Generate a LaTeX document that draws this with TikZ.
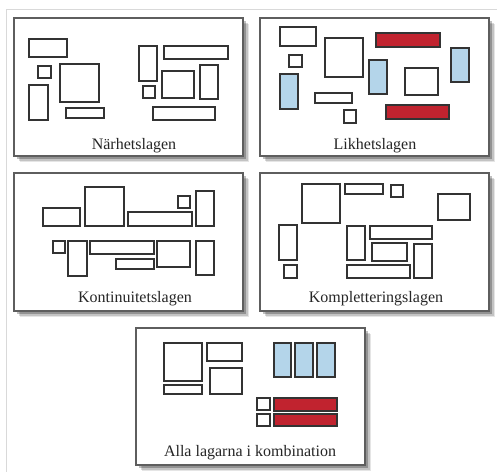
\documentclass[tikz,border=0pt]{standalone}
\usepackage{fontspec}
\setmainfont{Liberation Serif}

\definecolor{boxline}{HTML}{333333}
\definecolor{panelline}{HTML}{5E5E5E}
\definecolor{likblue}{HTML}{B4D5EA}
\definecolor{likred}{HTML}{C1232F}

\begin{document}
\begin{tikzpicture}[
  x=1pt, y=-1pt,
  font=\fontsize{16}{18}\selectfont,
  panel/.style={draw=panelline, line width=1.4pt, fill=white,
    preaction={fill=black, fill opacity=0.10, draw=none, transform canvas={shift={(6pt,-6pt)}}},
    preaction={fill=black, fill opacity=0.15, draw=none, transform canvas={shift={(4.5pt,-4.5pt)}}},
    preaction={fill=black, fill opacity=0.25, draw=none, transform canvas={shift={(3pt,-3pt)}}}},
  box/.style={draw=boxline, line width=1.6pt, fill=white},
  bluebox/.style={box, fill=likblue},
  redbox/.style={box, fill=likred},
  caption/.style={anchor=base, text=black!85, inner sep=1pt}
]
\useasboundingbox (0,0) rectangle (497,472);
\draw[black!15, line width=0.8pt] (497,9) -- (6,9) -- (6,472);

% Narhetslagen
\draw[panel] (14,18) rectangle (243,156);
\draw[box] (29,39) rectangle (67,57);
\draw[box] (38,66) rectangle (51,78);
\draw[box] (29,85) rectangle (48,120);
\draw[box] (60,64) rectangle (99,102);
\draw[box] (66,108) rectangle (104,118);
\draw[box] (139,46) rectangle (157,81);
\draw[box] (164,46) rectangle (228,59);
\draw[box] (143,86) rectangle (155,98);
\draw[box] (162,71) rectangle (194,98);
\draw[box] (200,65) rectangle (218,99);
\draw[box] (153,107) rectangle (215,120);
\node[caption] (narhet) at (134,149) {Närhetslagen};

% Likhetslagen
\draw[panel] (260,18) rectangle (489,156);
\draw[box] (280,27) rectangle (316,46);
\draw[box] (289,55) rectangle (302,67);
\draw[bluebox] (280,74) rectangle (298,109);
\draw[box] (325,38) rectangle (363,77);
\draw[box] (315,93) rectangle (352,103);
\draw[box] (344,110) rectangle (356,123);
\draw[bluebox] (369,60) rectangle (387,94);
\draw[redbox] (376,33) rectangle (440,47);
\draw[box] (405,68) rectangle (438,95);
\draw[bluebox] (451,48) rectangle (469,82);
\draw[redbox] (386,105) rectangle (449,119);
\node[caption] (likhet) at (375,149) {Likhetslagen};

% Kontinuitetslagen
\draw[panel] (14,173) rectangle (243,311);
\draw[box] (43,208) rectangle (80,226);
\draw[box] (85,187) rectangle (124,226);
\draw[box] (128,212) rectangle (192,226);
\draw[box] (178,196) rectangle (190,208);
\draw[box] (196,191) rectangle (214,226);
\draw[box] (53,241) rectangle (65,253);
\draw[box] (68,241) rectangle (87,276);
\draw[box] (90,241) rectangle (154,254);
\draw[box] (116,259) rectangle (154,269);
\draw[box] (157,241) rectangle (190,267);
\draw[box] (196,241) rectangle (214,275);
\node[caption] (kontinuitet) at (135,302) {Kontinuitetslagen};

% Kompletteringslagen
\draw[panel] (260,173) rectangle (489,311);
\draw[box] (302,184) rectangle (340,223);
\draw[box] (345,184) rectangle (383,194);
\draw[box] (391,185) rectangle (403,197);
\draw[box] (438,194) rectangle (470,220);
\draw[box] (279,225) rectangle (297,260);
\draw[box] (284,265) rectangle (297,278);
\draw[box] (347,226) rectangle (365,260);
\draw[box] (370,226) rectangle (432,239);
\draw[box] (372,243) rectangle (407,261);
\draw[box] (414,244) rectangle (432,278);
\draw[box] (347,265) rectangle (410,278);
\node[caption] (komplettering) at (376,302) {Kompletteringslagen};

% Alla lagarna
\draw[panel] (136,328) rectangle (365,465);
\draw[box] (164,343) rectangle (202,381);
\draw[box] (207,343) rectangle (242,361);
\draw[box] (210,368) rectangle (242,394);
\draw[box] (164,385) rectangle (202,394);
\draw[bluebox] (274,343) rectangle (291,377);
\draw[bluebox] (295,343) rectangle (313,377);
\draw[bluebox] (317,343) rectangle (335,377);
\draw[box] (257,398) rectangle (270,410);
\draw[box] (257,414) rectangle (270,426);
\draw[redbox] (274,398) rectangle (337,411);
\draw[redbox] (274,414) rectangle (337,426);
\node[caption] (alla) at (250,456) {Alla lagarna i kombination};
\end{tikzpicture}
\end{document}
